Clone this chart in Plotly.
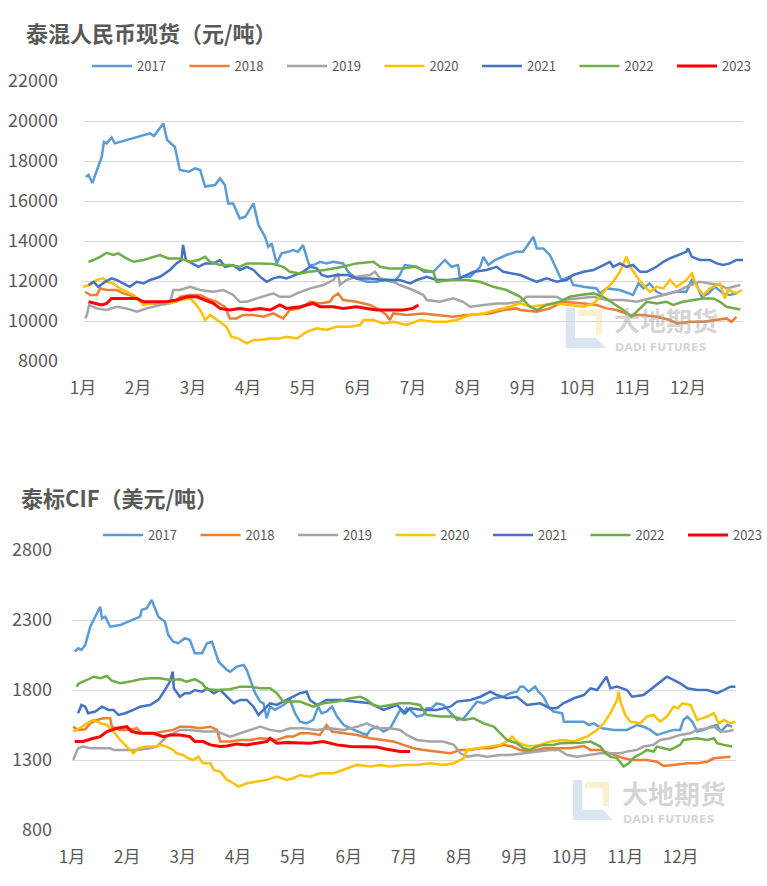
import plotly.graph_objects as go

W, H = 767, 886

years = ["2017", "2018", "2019", "2020", "2021", "2022", "2023"]
colors = ["#5B9BD5", "#ED7D31", "#A5A5A5", "#FFC000", "#4472C4", "#70AD47", "#FF0000"]
month_ticks = list(range(12))
month_labels = [f"{i}月" for i in range(1, 13)]

# ---------------- 泰混人民币现货 (元/吨) ----------------
rmb_2017_m = [0.05,0.10,0.17,0.25,0.34,0.38,0.43,0.52,0.58,1.22,1.29,1.46,1.53,1.67,1.76,1.92,2.04,2.13,2.22,2.40,2.49,2.58,2.64,2.73,2.85,2.95,3.10,3.19,3.31,3.37,3.43,3.52,3.61,3.73,3.82,3.91,4.00,4.11,4.19,4.31,4.43,4.55,4.73,4.82,4.97,5.16,5.34,5.49,5.65,5.76,5.85,6.07,6.20,6.37,6.58,6.70,6.82,6.85,7.04,7.22,7.28,7.37,7.49,7.70,7.88,8.00,8.10,8.19,8.25,8.37,8.49,8.61,8.70,8.85,8.91,9.10,9.34,9.40,9.52,9.76,9.92,10.00,10.10,10.19,10.30,10.43,10.55,10.64,10.76,10.97,11.07,11.16,11.25,11.37,11.49,11.64,11.76,11.88]
rmb_2017_v = [17200,17300,16900,17550,18200,18950,18880,19180,18880,19380,19250,19880,19050,18700,17550,17460,17630,17550,16720,16800,17130,16800,15880,15880,15130,15210,15880,14800,14210,13710,13880,12880,13380,13460,13550,13460,13800,12800,12800,12960,12880,12960,12880,12460,12130,11960,11960,12050,11950,12300,12800,12710,12460,12460,13050,12710,12800,12210,12210,12710,13210,12800,13050,13300,13460,13460,13880,14210,13630,13630,13300,12550,12050,12210,11800,11710,11630,11380,11630,11550,11380,11300,11880,11630,11880,11460,11300,11380,11460,11460,12050,11800,11210,11380,11710,11380,11300,11380]

rmb_2018_m = [0.04,0.13,0.25,0.31,0.43,0.61,0.73,0.85,1.01,1.16,1.34,1.52,1.70,1.76,1.95,2.13,2.25,2.43,2.58,2.67,2.79,2.91,3.10,3.28,3.46,3.64,3.76,3.95,4.13,4.31,4.49,4.55,4.64,4.73,4.97,5.22,5.40,5.52,5.58,5.64,5.88,6.19,6.43,6.73,6.97,7.40,7.64,7.88,7.95,8.25,8.49,8.73,9.10,9.34,9.52,9.70,9.95,10.19,10.43,10.67,10.79,11.04,11.28,11.52,11.70,11.79,11.88]
rmb_2018_v = [11460,11300,11300,11630,11550,11550,11380,11300,11050,10880,10880,10960,10960,11210,11300,11300,11130,10960,10710,10130,10130,10300,10300,10210,10380,10130,10550,10630,10960,10880,10960,11210,11380,11050,10960,10800,10550,10300,10050,10380,10300,10380,10300,10210,10300,10380,10550,10630,10550,10460,10630,10960,10880,10800,10630,10550,10300,10300,10210,10050,9880,9960,9960,10050,10130,9960,10210]

rmb_2019_m = [0.04,0.07,0.11,0.25,0.43,0.61,0.79,0.98,1.16,1.40,1.58,1.64,1.76,1.95,2.13,2.37,2.55,2.73,2.85,2.98,3.16,3.34,3.46,3.58,3.76,3.89,4.13,4.37,4.55,4.64,4.67,4.79,4.97,5.22,5.31,5.40,5.58,5.76,6.00,6.19,6.25,6.49,6.73,6.91,7.04,7.28,7.52,7.70,7.95,8.06,8.37,8.61,8.73,8.97,9.28,9.52,9.82,10.07,10.30,10.55,10.79,11.04,11.22,11.40,11.58,11.70,11.82,11.95]
rmb_2019_v = [10130,10300,10800,10630,10550,10710,10630,10460,10630,10800,10880,11550,11550,11710,11550,11460,11550,11300,10960,10960,11130,11300,11380,11210,11210,11380,11630,11800,12050,12380,11800,12050,12210,12300,12460,12130,12050,11800,11550,11300,11050,10960,11130,10960,10710,10800,10880,10880,10960,11210,11210,11210,11050,11130,11210,11050,11050,10960,11130,11300,11460,11800,11960,11880,11800,11630,11710,11800]

rmb_2020_m = [0.00,0.13,0.25,0.37,0.43,0.55,0.67,0.79,0.92,1.01,1.10,1.22,1.40,1.58,1.76,1.95,2.04,2.13,2.22,2.31,2.43,2.52,2.61,2.70,2.82,2.98,3.10,3.22,3.40,3.58,3.70,3.89,4.07,4.25,4.43,4.61,4.85,5.04,5.10,5.28,5.46,5.64,5.88,6.13,6.37,6.61,6.79,7.04,7.28,7.52,7.76,7.95,8.13,8.37,8.61,8.85,9.10,9.28,9.40,9.52,9.64,9.76,9.85,9.88,9.95,10.07,10.19,10.31,10.43,10.55,10.67,10.79,10.97,11.07,11.16,11.28,11.40,11.58,11.67,11.73,11.88,11.98]
rmb_2020_v = [11710,11800,12050,12130,11960,11880,11630,11460,11300,11050,10800,10880,10960,10880,11050,11130,10880,10550,10050,10300,10050,9880,9710,9210,9130,8880,9050,9050,9130,9130,9210,9130,9460,9630,9550,9710,9710,9800,10050,10050,9880,9960,9800,10050,9960,9960,10050,10300,10380,10550,10710,10880,10710,10800,10880,10800,10710,10880,11210,11630,11960,12460,12960,13210,12710,12210,11800,11460,11710,11630,12050,11710,12050,12380,11710,11300,11630,11880,11130,11550,11380,11550]

rmb_2021_m = [0.10,0.19,0.28,0.40,0.52,0.61,0.73,0.85,0.98,1.10,1.22,1.40,1.58,1.70,1.79,1.82,1.87,1.98,2.10,2.22,2.37,2.49,2.58,2.73,2.85,2.98,3.10,3.22,3.34,3.46,3.58,3.70,3.85,4.00,4.13,4.25,4.34,4.45,4.61,4.82,4.97,5.22,5.46,5.76,5.95,6.07,6.25,6.43,6.67,6.85,7.10,7.34,7.52,7.64,7.95,8.25,8.43,8.61,8.79,8.91,9.10,9.28,9.40,9.58,9.64,9.76,9.88,10.00,10.13,10.25,10.43,10.55,10.67,10.82,10.97,11.00,11.07,11.22,11.40,11.52,11.64,11.76,11.88,12.00]
rmb_2021_v = [11800,11960,11710,11960,12130,12050,11880,11710,11960,11880,12050,12210,12550,12880,13050,13800,13050,12880,12710,12880,12880,13050,12710,12800,12550,12710,12550,12210,11960,12130,12210,12130,12300,12460,12710,12630,12300,12210,12300,12300,12130,12130,12050,12050,11880,12050,12210,12050,12050,12130,12460,12550,12710,12460,12300,11960,12130,11960,12050,12300,12460,12550,12710,12960,12710,12880,12710,12800,12460,12460,12710,12960,13130,13300,13460,13630,13210,13050,13050,12880,12800,12880,13050,13050]

rmb_2022_m = [0.10,0.19,0.31,0.43,0.55,0.64,0.79,0.92,1.10,1.28,1.40,1.55,1.76,1.95,2.10,2.22,2.31,2.49,2.67,2.85,2.98,3.22,3.46,3.64,3.76,3.95,4.11,4.40,4.70,4.97,5.28,5.40,5.58,5.82,6.04,6.19,6.37,6.43,6.67,6.97,7.22,7.46,7.70,7.95,8.13,8.25,8.43,8.67,8.85,9.04,9.28,9.46,9.64,9.82,9.97,10.10,10.25,10.43,10.61,10.73,10.91,11.10,11.28,11.46,11.58,11.70,11.82,11.95]
rmb_2022_v = [12960,13050,13210,13410,13300,13380,13130,12960,13050,13210,13300,13130,13130,12960,13050,13210,12960,12800,12800,12710,12880,12880,12850,12710,12460,12380,12460,12550,12700,12880,12960,12710,12630,12630,12710,12550,12460,11960,12050,12050,11960,11710,11550,11210,10710,10550,10800,10960,11210,11300,11380,11210,10880,10550,10210,10550,10960,10880,10960,10800,10960,11050,11130,11130,10960,10710,10660,10580]

rmb_2023_m = [0.10,0.22,0.34,0.43,0.52,0.73,0.98,1.10,1.34,1.52,1.70,1.89,2.07,2.22,2.37,2.49,2.67,2.85,3.04,3.22,3.40,3.58,3.70,3.95,4.19,4.31,4.55,4.73,4.97,5.16,5.34,5.58,5.82,6.00,6.10]
rmb_2023_v = [10960,10880,10800,10880,11130,11130,11130,10960,10960,10960,11050,11210,11210,11050,10880,10630,10550,10630,10550,10630,10550,10800,10630,10710,10880,10710,10710,10630,10710,10630,10550,10550,10550,10630,10800]

# ---------------- 泰标CIF (美元/吨) ----------------
cif_2017_m = [0.05,0.11,0.17,0.24,0.33,0.42,0.48,0.51,0.54,0.60,0.69,0.87,1.23,1.26,1.35,1.44,1.50,1.56,1.68,1.74,1.83,1.92,2.04,2.13,2.22,2.35,2.44,2.53,2.59,2.65,2.80,2.86,2.98,3.10,3.16,3.25,3.31,3.40,3.46,3.52,3.58,3.67,3.82,3.94,4.03,4.12,4.24,4.36,4.45,4.51,4.60,4.70,4.79,4.91,5.09,5.33,5.39,5.51,5.63,5.75,5.87,5.93,5.99,6.05,6.11,6.23,6.35,6.41,6.50,6.59,6.71,6.84,6.96,7.08,7.20,7.32,7.44,7.62,7.80,7.92,8.04,8.10,8.16,8.25,8.37,8.43,8.52,8.61,8.70,8.86,8.89,9.07,9.25,9.34,9.43,9.58,9.79,10.03,10.21,10.33,10.45,10.57,10.75,10.87,10.99,11.05,11.12,11.21,11.30,11.42,11.54,11.66,11.72,11.84,11.93]
cif_2017_v = [2074,2098,2086,2122,2252,2324,2372,2395,2312,2324,2252,2264,2324,2372,2384,2443,2384,2324,2288,2193,2145,2134,2170,2157,2062,2062,2134,2145,2074,2002,1943,1931,1967,1979,1943,1848,1777,1717,1705,1598,1681,1658,1693,1729,1634,1574,1562,1586,1681,1634,1646,1681,1610,1550,1515,1479,1515,1538,1503,1527,1610,1658,1634,1670,1658,1610,1622,1670,1670,1705,1693,1634,1586,1598,1658,1717,1705,1741,1752,1777,1788,1824,1824,1788,1824,1788,1752,1681,1646,1634,1574,1574,1574,1550,1562,1527,1515,1515,1550,1538,1515,1479,1503,1515,1515,1586,1610,1574,1503,1515,1538,1550,1503,1550,1538]

cif_2018_m = [0.02,0.11,0.24,0.33,0.45,0.57,0.69,0.72,0.87,1.05,1.17,1.26,1.47,1.65,1.83,1.95,2.13,2.31,2.50,2.62,2.68,2.86,3.04,3.22,3.40,3.58,3.70,3.88,4.00,4.12,4.30,4.48,4.60,4.70,4.91,5.15,5.39,5.57,5.81,5.99,6.17,6.35,6.59,6.84,7.02,7.20,7.38,7.56,7.80,7.95,8.10,8.28,8.52,8.76,9.00,9.25,9.37,9.55,9.73,9.97,10.15,10.39,10.57,10.69,10.87,11.12,11.30,11.48,11.60,11.72,11.84,11.90]
cif_2018_v = [1538,1515,1520,1562,1586,1598,1598,1538,1515,1515,1527,1491,1491,1503,1515,1538,1538,1527,1538,1515,1432,1432,1443,1443,1455,1450,1443,1467,1467,1491,1491,1479,1550,1503,1491,1479,1455,1443,1432,1408,1384,1372,1360,1348,1372,1372,1384,1384,1408,1396,1372,1360,1384,1384,1384,1400,1372,1372,1348,1312,1300,1300,1288,1258,1265,1277,1277,1288,1312,1315,1318,1324]

cif_2019_m = [0.02,0.11,0.20,0.33,0.51,0.69,0.75,1.17,1.41,1.53,1.62,1.71,1.83,1.95,2.13,2.37,2.62,2.86,3.04,3.22,3.40,3.58,3.76,3.94,4.18,4.43,4.67,4.91,5.15,5.33,5.51,5.75,5.93,6.05,6.23,6.47,6.71,6.90,7.02,7.14,7.32,7.50,7.74,7.92,8.16,8.40,8.64,8.80,8.95,9.13,9.37,9.55,9.91,10.03,10.21,10.33,10.51,10.63,10.81,10.99,11.17,11.30,11.48,11.60,11.72,11.84,11.96]
cif_2019_v = [1300,1384,1396,1384,1384,1384,1372,1372,1384,1396,1432,1467,1491,1515,1515,1503,1503,1467,1491,1515,1538,1515,1503,1527,1527,1515,1527,1515,1538,1562,1527,1527,1515,1479,1443,1432,1432,1408,1348,1324,1336,1324,1336,1336,1348,1360,1372,1372,1336,1324,1336,1348,1348,1360,1372,1396,1408,1443,1455,1479,1491,1515,1527,1538,1503,1503,1515]

cif_2020_m = [0.02,0.14,0.27,0.39,0.51,0.63,0.75,0.87,0.99,1.11,1.20,1.35,1.53,1.59,1.71,1.83,1.89,2.01,2.10,2.19,2.28,2.37,2.50,2.56,2.68,2.80,2.92,3.01,3.16,3.34,3.52,3.70,3.88,4.00,4.12,4.30,4.48,4.73,4.91,5.15,5.39,5.57,5.75,5.99,6.23,6.47,6.71,6.90,7.08,7.14,7.32,7.56,7.74,7.86,7.95,8.04,8.16,8.28,8.46,8.64,8.88,9.07,9.31,9.49,9.61,9.73,9.85,9.88,9.91,10.00,10.09,10.27,10.39,10.51,10.63,10.75,10.87,10.95,11.03,11.18,11.30,11.48,11.60,11.69,11.78,11.90,11.99]
cif_2020_v = [1503,1527,1562,1586,1562,1550,1503,1443,1396,1348,1384,1396,1396,1408,1396,1372,1348,1336,1312,1300,1324,1277,1277,1229,1217,1158,1134,1110,1134,1146,1158,1181,1158,1170,1193,1181,1205,1205,1229,1265,1253,1265,1253,1265,1265,1277,1265,1277,1312,1372,1384,1396,1408,1432,1467,1432,1408,1396,1408,1432,1443,1432,1467,1515,1562,1634,1729,1788,1717,1622,1574,1562,1610,1622,1574,1610,1681,1670,1705,1693,1586,1610,1634,1562,1586,1562,1574]

cif_2021_m = [0.11,0.17,0.24,0.29,0.42,0.54,0.66,0.75,0.84,0.96,1.11,1.23,1.41,1.56,1.68,1.77,1.82,1.84,1.95,2.04,2.13,2.22,2.35,2.44,2.56,2.68,2.80,2.92,3.04,3.16,3.28,3.37,3.46,3.58,3.70,3.82,3.97,4.12,4.24,4.30,4.43,4.60,4.85,5.15,5.39,5.63,5.87,6.02,6.11,6.35,6.59,6.84,6.96,7.20,7.38,7.56,7.68,7.86,8.04,8.22,8.46,8.64,8.76,8.88,9.07,9.25,9.37,9.49,9.58,9.66,9.73,9.85,10.03,10.12,10.33,10.45,10.57,10.75,10.87,10.99,11.12,11.30,11.48,11.66,11.78,11.90,11.99]
cif_2021_v = [1634,1693,1681,1634,1646,1681,1658,1658,1622,1634,1658,1681,1693,1729,1800,1860,1931,1812,1752,1777,1777,1800,1788,1812,1777,1800,1752,1705,1729,1729,1681,1622,1658,1705,1693,1717,1741,1777,1788,1729,1693,1729,1729,1717,1705,1658,1693,1634,1670,1658,1658,1681,1717,1729,1752,1788,1764,1741,1752,1693,1705,1670,1670,1705,1741,1764,1812,1800,1848,1895,1812,1824,1800,1752,1764,1800,1836,1895,1872,1848,1812,1800,1800,1777,1800,1824,1824]

cif_2022_m = [0.08,0.13,0.27,0.39,0.51,0.63,0.72,0.87,1.05,1.23,1.41,1.59,1.77,1.95,2.07,2.22,2.35,2.44,2.62,2.86,3.04,3.22,3.40,3.58,3.70,3.82,4.12,4.36,4.54,4.79,5.03,5.21,5.33,5.45,5.57,5.75,5.93,6.11,6.29,6.41,6.65,6.90,7.08,7.26,7.44,7.62,7.74,7.86,8.04,8.16,8.28,8.40,8.52,8.70,8.82,9.00,9.19,9.37,9.55,9.64,9.73,9.85,9.97,10.06,10.18,10.30,10.39,10.51,10.57,10.69,10.81,10.99,11.05,11.29,11.48,11.60,11.66,11.78,11.93]
cif_2022_v = [1824,1848,1872,1895,1884,1900,1867,1848,1860,1877,1884,1884,1872,1877,1860,1877,1848,1805,1800,1805,1824,1824,1812,1812,1777,1717,1717,1681,1705,1717,1741,1752,1729,1693,1681,1693,1705,1705,1693,1622,1610,1610,1586,1598,1562,1538,1491,1443,1420,1384,1372,1396,1408,1408,1420,1420,1424,1432,1396,1348,1324,1312,1253,1277,1324,1348,1372,1360,1396,1384,1372,1408,1443,1455,1443,1455,1420,1408,1396]

cif_2023_m = [0.05,0.20,0.39,0.51,0.63,0.81,0.99,1.08,1.23,1.47,1.65,1.77,1.95,2.13,2.22,2.37,2.50,2.68,2.80,2.98,3.16,3.34,3.52,3.58,3.70,3.88,4.12,4.30,4.54,4.79,5.03,5.27,5.51,5.69,5.93,6.11]
cif_2023_v = [1432,1432,1455,1467,1503,1527,1538,1503,1491,1491,1467,1479,1479,1467,1432,1432,1408,1396,1400,1415,1408,1420,1432,1455,1420,1425,1425,1420,1432,1408,1396,1392,1392,1377,1360,1360]

rmb_series = [(rmb_2017_m, rmb_2017_v), (rmb_2018_m, rmb_2018_v), (rmb_2019_m, rmb_2019_v),
              (rmb_2020_m, rmb_2020_v), (rmb_2021_m, rmb_2021_v), (rmb_2022_m, rmb_2022_v),
              (rmb_2023_m, rmb_2023_v)]
cif_series = [(cif_2017_m, cif_2017_v), (cif_2018_m, cif_2018_v), (cif_2019_m, cif_2019_v),
              (cif_2020_m, cif_2020_v), (cif_2021_m, cif_2021_v), (cif_2022_m, cif_2022_v),
              (cif_2023_m, cif_2023_v)]

FONT = "Noto Sans CJK SC, Microsoft YaHei, sans-serif"
GRAY = "#595959"


def px(x):
    return x / W


def py(y):
    return 1 - y / H


fig = go.Figure()
legend_layout = {}
# top legend: lines start at ~92px, step ~98px, centre y=66
# bottom legend: lines start at ~103px, step ~98px, centre y=535
panels = [(rmb_series, "x", "y", 92, 66, 0), (cif_series, "x2", "y2", 103, 535, 7)]
for series, xa, ya, lx0, ly, off in panels:
    for i, (yr, col) in enumerate(zip(years, colors)):
        m, v = series[i]
        k = off + i + 1
        lname = "legend" if k == 1 else f"legend{k}"
        fig.add_trace(go.Scatter(x=m, y=v, mode="lines", name=yr, legend=lname,
                                 line=dict(color=col, width=3.0 if yr == "2023" else 2.5),
                                 xaxis=xa, yaxis=ya))
        legend_layout[lname] = dict(
            x=px(lx0 + i * 97.5 - 5), y=py(ly), xanchor="left", yanchor="middle",
            orientation="h", bgcolor="rgba(0,0,0,0)", borderwidth=0,
            font=dict(family=FONT, size=13, color=GRAY), itemwidth=40)

xcommon = dict(range=[0, 12], tickmode="array", tickvals=month_ticks, ticktext=month_labels,
               showgrid=False, zeroline=False, showline=False, ticks="",
               tickfont=dict(family=FONT, size=17, color=GRAY), ticklabelstandoff=15)
ycommon = dict(showgrid=True, gridcolor="#d9d9d9", gridwidth=1.3, zeroline=False, showline=False,
               ticks="", tickformat="d", tickfont=dict(family=FONT, size=18, color=GRAY))

fig.update_layout(
    width=W, height=H, margin=dict(l=0, r=0, t=0, b=0, autoexpand=False),
    paper_bgcolor="white", plot_bgcolor="white",
    font=dict(family=FONT, color=GRAY),
    xaxis=dict(domain=[px(83), px(743)], anchor="y", **xcommon),
    yaxis=dict(domain=[py(361), py(81)], anchor="x", range=[8000, 22000], tick0=8000, dtick=2000,
               ticklabelstandoff=24, **ycommon),
    xaxis2=dict(domain=[px(72), px(736)], anchor="y2", **xcommon),
    yaxis2=dict(domain=[py(830), py(550)], anchor="x2", range=[800, 2800], tick0=800, dtick=500,
                ticklabelstandoff=19, **ycommon),
    showlegend=True,
    **legend_layout,
)

annotations = [
    dict(text="<b>泰混人民币现货（元/吨）</b>", x=px(24), y=py(32), xref="paper", yref="paper",
         xanchor="left", yanchor="middle", showarrow=False,
         font=dict(family=FONT, size=22, color=GRAY)),
    dict(text="<b>泰标CIF（美元/吨）</b>", x=px(19), y=py(497), xref="paper", yref="paper",
         xanchor="left", yanchor="middle", showarrow=False,
         font=dict(family=FONT, size=22, color=GRAY)),
]

shapes = []
# watermark logos (decoration)
for (lx, ly, tx) in [(566, 308, 612), (573, 780, 620)]:
    shapes.append(dict(type="path", xref="paper", yref="paper",
                       path=f"M {px(lx)},{py(ly)} L {px(lx)},{py(ly+40)} L {px(lx+40)},{py(ly+40)} L {px(lx+30)},{py(ly+30)} L {px(lx+9)},{py(ly+30)} L {px(lx+9)},{py(ly)} Z",
                       fillcolor="rgba(150,180,215,0.35)", line=dict(width=0), layer="below"))
    shapes.append(dict(type="path", xref="paper", yref="paper",
                       path=f"M {px(lx+12)},{py(ly+2)} L {px(lx+36)},{py(ly+2)} L {px(lx+36)},{py(ly+26)} L {px(lx+30)},{py(ly+26)} L {px(lx+30)},{py(ly+8)} L {px(lx+12)},{py(ly+8)} Z",
                       fillcolor="rgba(240,215,140,0.4)", line=dict(width=0), layer="below"))
    annotations.append(dict(text="<b>大地期货</b>", x=px(tx), y=py(ly + 12), xref="paper", yref="paper",
                            xanchor="left", yanchor="middle", showarrow=False,
                            font=dict(family=FONT, size=26, color="rgba(160,160,160,0.45)")))
    annotations.append(dict(text="<b>DADI FUTURES</b>", x=px(tx + 1), y=py(ly + 39), xref="paper", yref="paper",
                            xanchor="left", yanchor="middle", showarrow=False,
                            font=dict(family="DejaVu Sans", size=11, color="rgba(160,160,160,0.45)")))

fig.update_layout(annotations=annotations, shapes=shapes)

fig.write_html("out.html")
